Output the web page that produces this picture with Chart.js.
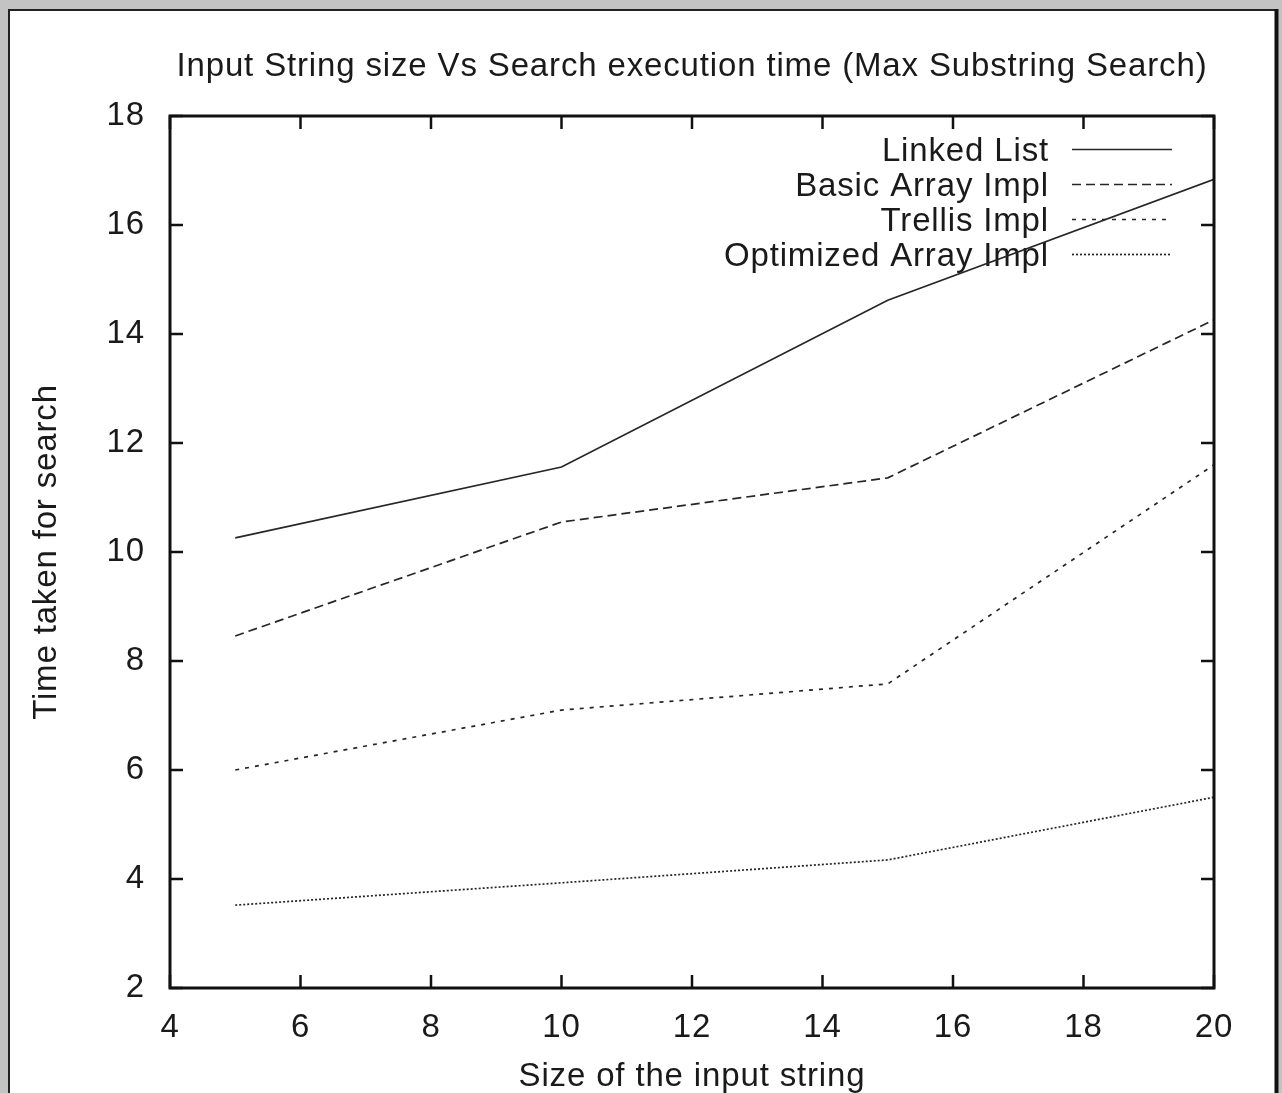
<!DOCTYPE html>
<html>
<head>
<meta charset="utf-8">
<script src="https://cdn.jsdelivr.net/npm/chart.js@4/dist/chart.umd.min.js"></script>
<style>
html, body { margin: 0; padding: 0; background: #fff; }
#myChart { display: block; }
</style>
</head>
<body>
<canvas id="myChart" width="1282" height="1093"></canvas>
<script>
// values
const sizes = [5, 10, 15, 20];
const linkedList = [10.26, 11.56, 14.62, 16.84];
const basicArray = [8.46, 10.55, 11.36, 14.26];
const trellis = [6.0, 7.1, 7.58, 11.6];
const optimizedArray = [3.52, 3.93, 4.35, 5.5];
const seriesNames = ['Linked List', 'Basic Array Impl', 'Trellis Impl', 'Optimized Array Impl'];
const xTicks = [4, 6, 8, 10, 12, 14, 16, 18, 20];
const yTicks = [2, 4, 6, 8, 10, 12, 14, 16, 18];

const chartTitle = 'Input String size Vs Search execution time (Max Substring Search)';
const fontFamily = "'Liberation Sans', Arial, sans-serif";
const fontSize = 33;
const ink = '#1a1a1a';

function toPoints(values) {
    return sizes.map((s, i) => ({ x: s, y: values[i] }));
}

const dashes = [[], [9, 5], [4, 6], [2, 2]];
const allSeries = [linkedList, basicArray, trellis, optimizedArray];

const datasets = allSeries.map((values, i) => ({
    label: seriesNames[i],
    data: toPoints(values),
    borderColor: '#262626',
    borderWidth: 1.7,
    borderDash: dashes[i],
    pointRadius: 0,
    tension: 0,
    fill: false
}));

// gnuplot text is a little wider than Liberation Sans
function spacing(chart) {
    chart.ctx.letterSpacing = '0.85px';
}

// window frame + gnuplot style box, ticks, title and key
const gnuplotLook = {
    id: 'gnuplotLook',
    beforeUpdate(chart) { spacing(chart); },
    beforeDraw(chart) {
        spacing(chart);
        const ctx = chart.ctx;
        ctx.save();
        ctx.fillStyle = '#c3c3c3';
        ctx.fillRect(0, 0, chart.width, chart.height);
        ctx.fillStyle = '#fff';
        ctx.fillRect(8, 9, 1270, chart.height);
        ctx.strokeStyle = '#222';
        ctx.lineWidth = 2;
        ctx.beginPath();
        ctx.moveTo(8, 10); ctx.lineTo(1278, 10);
        ctx.moveTo(9, 9); ctx.lineTo(9, chart.height);
        ctx.stroke();
        ctx.lineWidth = 4;
        ctx.strokeStyle = '#111';
        ctx.beginPath();
        ctx.moveTo(1276.5, 9); ctx.lineTo(1276.5, chart.height);
        ctx.stroke();

        // title
        const area = chart.chartArea;
        ctx.fillStyle = ink;
        ctx.font = fontSize + 'px ' + fontFamily;
        ctx.textAlign = 'center';
        ctx.textBaseline = 'alphabetic';
        ctx.fillText(chartTitle, (area.left + area.right) / 2, 76);
        ctx.restore();
    },
    beforeDatasetsDraw(chart) {
        // key, drawn under the data lines
        const ctx = chart.ctx;
        const area = chart.chartArea;
        ctx.save();
        ctx.font = fontSize + 'px ' + fontFamily;
        ctx.fillStyle = ink;
        ctx.textAlign = 'right';
        ctx.textBaseline = 'alphabetic';
        chart.data.datasets.forEach((ds, i) => {
            const y = area.top + 33 + i * 35;
            ctx.fillText(ds.label, area.right - 165, y + 12);
            ctx.strokeStyle = ds.borderColor;
            ctx.lineWidth = ds.borderWidth;
            ctx.setLineDash(ds.borderDash);
            ctx.beginPath();
            ctx.moveTo(area.right - 142, y + 0.5);
            ctx.lineTo(area.right - 42, y + 0.5);
            ctx.stroke();
        });
        ctx.restore();
    },
    afterDatasetsDraw(chart) {
        const ctx = chart.ctx;
        const area = chart.chartArea;
        const xs = chart.scales.x;
        const ys = chart.scales.y;
        const len = 13;
        ctx.save();
        ctx.strokeStyle = '#111';
        ctx.lineWidth = 2.5;
        ctx.beginPath();
        xTicks.forEach(v => {
            const px = xs.getPixelForValue(v);
            ctx.moveTo(px, area.bottom); ctx.lineTo(px, area.bottom - len);
            ctx.moveTo(px, area.top); ctx.lineTo(px, area.top + len);
        });
        yTicks.forEach(v => {
            const py = ys.getPixelForValue(v);
            ctx.moveTo(area.left, py); ctx.lineTo(area.left + len, py);
            ctx.moveTo(area.right, py); ctx.lineTo(area.right - len, py);
        });
        ctx.stroke();
        ctx.lineWidth = 3;
        ctx.strokeRect(area.left, area.top, area.right - area.left, area.bottom - area.top);
        ctx.restore();
    }
};

const config = {
    type: 'line',
    data: { datasets: datasets },
    options: {
        responsive: false,
        animation: false,
        layout: { padding: { top: 116, right: 68, bottom: 0, left: 0 } },
        plugins: {
            legend: { display: false },
            title: { display: false },
            tooltip: { enabled: false }
        },
        scales: {
            x: {
                type: 'linear',
                min: 4,
                max: 20,
                afterFit: scale => { scale.height = 105; },
                afterBuildTicks: scale => { scale.ticks = xTicks.map(v => ({ value: v })); },
                grid: { display: false, drawTicks: false },
                border: { display: false },
                ticks: {
                    padding: 20,
                    color: ink,
                    maxRotation: 0,
                    font: { family: fontFamily, size: fontSize }
                },
                title: {
                    display: true,
                    text: 'Size of the input string',
                    color: ink,
                    padding: { top: 0, bottom: -2 },
                    font: { family: fontFamily, size: fontSize, lineHeight: 1.1 }
                }
            },
            y: {
                type: 'linear',
                min: 2,
                max: 18,
                afterFit: scale => { scale.width = 170; },
                afterBuildTicks: scale => { scale.ticks = yTicks.map(v => ({ value: v })); },
                grid: { display: false, drawTicks: false },
                border: { display: false },
                ticks: {
                    padding: 25,
                    color: ink,
                    font: { family: fontFamily, size: fontSize }
                },
                title: {
                    display: true,
                    text: 'Time taken for search',
                    color: ink,
                    padding: { top: 29, bottom: 29 },
                    font: { family: fontFamily, size: fontSize, lineHeight: 1.1 }
                }
            }
        }
    },
    plugins: [gnuplotLook]
};

new Chart(document.getElementById('myChart'), config);
</script>
</body>
</html>
